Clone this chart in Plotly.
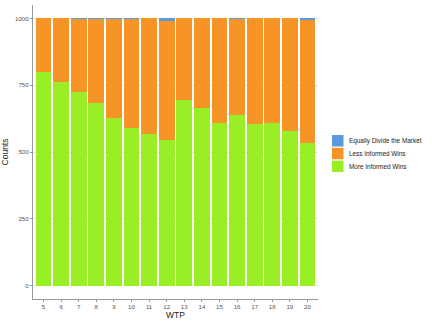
import plotly.graph_objects as go

# Data
wtp = [5, 6, 7, 8, 9, 10, 11, 12, 13, 14, 15, 16, 17, 18, 19, 20]
more_informed = [800, 762, 726, 685, 627, 588, 566, 544, 694, 665, 607, 637, 603, 607, 577, 533]
equal_split = [0, 0, 2, 2, 2, 2, 0, 9, 0, 0, 0, 2, 0, 0, 0, 7]
less_informed = [1000 - m - e for m, e in zip(more_informed, equal_split)]

series = [
    ('Equally Divide the Market', '#5B9BDC'),
    ('Less Informed Wins', '#F69427'),
    ('More Informed Wins', '#99EE26'),
]
colors = dict(series)

W, H = 432, 324
L, R, T, B = 33, 114, 5, 25

fig = go.Figure()
fig.add_trace(go.Bar(x=wtp, y=more_informed, name='More Informed Wins', marker=dict(color=colors['More Informed Wins'], line=dict(width=0))))
fig.add_trace(go.Bar(x=wtp, y=less_informed, name='Less Informed Wins', marker=dict(color=colors['Less Informed Wins'], line=dict(width=0))))
fig.add_trace(go.Bar(x=wtp, y=equal_split, name='Equally Divide the Market', marker=dict(color=colors['Equally Divide the Market'], line=dict(width=0))))

# hand-made legend (plotly's legend rows are too tall for this size)
pw, ph = W - L - R, H - T - B
def px(x): return (x - L) / pw
def py(y): return (H - B - y) / ph

for i, (name, col) in enumerate(series):
    top = 135 + i * 12.8
    fig.add_shape(type='rect', xref='paper', yref='paper',
                  x0=px(332), x1=px(343.5), y0=py(top), y1=py(top + 11.5),
                  fillcolor=col, line=dict(width=0))
    fig.add_annotation(xref='paper', yref='paper', x=px(347), y=py(top + 5.75),
                       text=name, showarrow=False, xanchor='left', yanchor='middle',
                       font=dict(size=6.4, color='#222222'))

fig.update_layout(
    barmode='stack',
    bargap=0.1,
    width=W, height=H,
    margin=dict(l=L, r=R, t=T, b=B),
    plot_bgcolor='white', paper_bgcolor='white',
    font=dict(family='Liberation Sans, Arial, sans-serif', color='#222222'),
    showlegend=False,
    hovermode=False,
)
fig.update_xaxes(
    tickmode='array', tickvals=wtp, ticktext=[str(v) for v in wtp],
    range=[4.4, 20.6], showline=True, linecolor='#9a9a9a', linewidth=1,
    ticks='outside', ticklen=2, tickcolor='#9a9a9a', tickfont=dict(size=6.2, color='#555555'),
    showgrid=False, zeroline=False, automargin=False,
    title=dict(text='WTP', font=dict(size=8.5), standoff=1),
)
fig.update_yaxes(
    tickvals=[0, 250, 500, 750, 1000], range=[-50, 1050],
    showline=True, linecolor='#9a9a9a', linewidth=1,
    ticks='outside', ticklen=2, tickcolor='#9a9a9a', tickfont=dict(size=6.2, color='#555555'),
    showgrid=True, gridcolor='#e4e4e4', gridwidth=1, zeroline=False, automargin=False,
    title=dict(text='Counts', font=dict(size=8.5), standoff=5),
)

# drop the browser's default body margin so the figure sits at the page corner
fig.write_html("out.html", config={'displayModeBar': False, 'staticPlot': True},
               post_script="document.body.style.margin='0px';")
